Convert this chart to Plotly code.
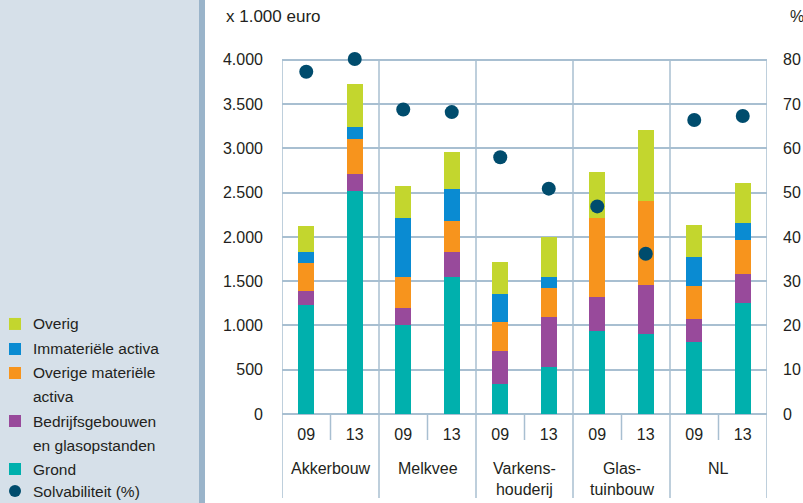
import plotly.graph_objects as go

# ---- data ----
groups = ["Akkerbouw", "Melkvee", "Varkens-<br>houderij", "Glas-<br>tuinbouw", "NL"]
x_pos = [0.5, 1.5, 2.5, 3.5, 4.5, 5.5, 6.5, 7.5, 8.5, 9.5]
x_ticktext = ["09", "13"] * 5

grond = [1227, 2515, 1009, 1551, 342, 534, 941, 907, 817, 1258]
bedrijfsgebouwen = [166, 192, 192, 283, 373, 565, 384, 554, 260, 327]
overige_materiele = [317, 404, 350, 350, 328, 328, 893, 949, 373, 384]
immateriele = [124, 135, 667, 362, 316, 124, 0, 0, 327, 193]
overig = [294, 486, 362, 418, 362, 449, 520, 802, 362, 452]
solvabiliteit = [77.3, 80.2, 68.8, 68.2, 58.0, 50.9, 46.9, 36.2, 66.4, 67.3]

y_ticks = [0, 500, 1000, 1500, 2000, 2500, 3000, 3500, 4000]
y_ticktext = ["0", "500", "1.000", "1.500", "2.000", "2.500", "3.000", "3.500", "4.000"]
y2_ticks = [0, 10, 20, 30, 40, 50, 60, 70, 80]

legend_labels = ["Overig", "Immateriële activa", "Overige materiële<br>activa",
                 "Bedrijfsgebouwen<br>en glasopstanden", "Grond", "Solvabiliteit (%)"]

# ---- styling ----
FONT = "Liberation Sans, Arial, sans-serif"
TXT = "#231f20"
GRID = "#a8bfd1"
C_GROND, C_BEDR, C_OVMAT, C_IMM, C_OVERIG, C_SOLV = (
    "#00b0ad", "#984a9b", "#f7941d", "#0a8bd2", "#c3d62e", "#004c6d")
W, H = 803, 503
Y_MAX, Y2_MAX = 4100, 82          # a little headroom so the top dot is drawn
L, R, B = 282, 36, 89
PH = 354 * Y_MAX / 4000           # 4000 lands at 60 px from the top
T = H - B - PH
PW = W - L - R


def px_x(px):
    return (px - L) / PW


def px_y(py):
    return (H - B - py) / PH


fig = go.Figure()

series = [
    (legend_labels[4], grond, C_GROND),
    (legend_labels[3], bedrijfsgebouwen, C_BEDR),
    (legend_labels[2], overige_materiele, C_OVMAT),
    (legend_labels[1], immateriele, C_IMM),
    (legend_labels[0], overig, C_OVERIG),
]
for name, vals, col in series:
    fig.add_trace(go.Bar(
        x=x_pos, y=vals, name=name.replace("<br>", " "),
        marker=dict(color=col, line=dict(width=0)), width=0.33,
    ))

fig.add_trace(go.Scatter(
    x=x_pos, y=solvabiliteit, yaxis="y2", mode="markers", name=legend_labels[5],
    marker=dict(color=C_SOLV, size=14, line=dict(width=0)), cliponaxis=False,
))

shapes = []
# left panel
shapes.append(dict(type="rect", xref="paper", yref="paper", x0=px_x(-2), x1=px_x(199),
                   y0=px_y(H + 2), y1=px_y(-2), fillcolor="#d6e0e9", line=dict(width=0), layer="below"))
shapes.append(dict(type="rect", xref="paper", yref="paper", x0=px_x(199), x1=px_x(205),
                   y0=px_y(H + 2), y1=px_y(-2), fillcolor="#9ab4ca", line=dict(width=0), layer="below"))
# group dividers
for gx in [0, 2, 4, 6, 8, 10]:
    shapes.append(dict(type="line", xref="x", yref="paper", x0=gx, x1=gx, y0=px_y(498), y1=px_y(60),
                       line=dict(color=GRID, width=1.5), layer="below"))
for sx in [1, 3, 5, 7, 9]:
    shapes.append(dict(type="line", xref="x", yref="paper", x0=sx, x1=sx, y0=px_y(440), y1=0,
                       line=dict(color=GRID, width=1.5), layer="below"))

annotations = [
    dict(text="x 1.000 euro", xref="paper", yref="paper", x=px_x(224), y=px_y(17),
         xanchor="left", yanchor="middle", showarrow=False, font=dict(size=17, color=TXT, family=FONT)),
    dict(text="%", xref="paper", yref="paper", x=px_x(788), y=px_y(17),
         xanchor="left", yanchor="middle", showarrow=False, font=dict(size=16, color=TXT, family=FONT)),
]
for i, g in enumerate(groups):
    annotations.append(dict(text=g, xref="x", yref="paper", x=2 * i + 1, y=px_y(458),
                            xanchor="center", yanchor="top", showarrow=False, align="center",
                            font=dict(size=16, color=TXT, family=FONT)))

# ---- legend (drawn in the left panel) ----
leg_colors = [C_OVERIG, C_IMM, C_OVMAT, C_BEDR, C_GROND, C_SOLV]
leg_rows = [324, 349, 373, 421, 469, 491]
for lab, col, yc in zip(legend_labels, leg_colors, leg_rows):
    if col == C_SOLV:
        shapes.append(dict(type="circle", xref="paper", yref="paper", x0=px_x(9), x1=px_x(21),
                           y0=px_y(yc + 6), y1=px_y(yc - 6), fillcolor=col, line=dict(width=0)))
    else:
        shapes.append(dict(type="rect", xref="paper", yref="paper", x0=px_x(9), x1=px_x(21),
                           y0=px_y(yc + 6), y1=px_y(yc - 6), fillcolor=col, line=dict(width=0)))
    for j, line in enumerate(lab.split("<br>")):
        annotations.append(dict(text=line, xref="paper", yref="paper", x=px_x(31),
                                y=px_y(yc + 24 * j), xanchor="left", yanchor="middle",
                                showarrow=False, font=dict(size=15.5, color=TXT, family=FONT)))

fig.update_layout(
    width=W, height=H, margin=dict(l=L, r=R, t=T, b=B, autoexpand=False),
    paper_bgcolor="white", plot_bgcolor="white",
    barmode="stack", bargap=0, showlegend=False,
    font=dict(family=FONT, size=16, color=TXT),
    xaxis=dict(range=[0, 10], tickvals=x_pos, ticktext=x_ticktext, showgrid=False,
               zeroline=False, showline=False, ticks="", ticklabelstandoff=9,
               tickfont=dict(size=16, color=TXT), fixedrange=True),
    yaxis=dict(range=[0, Y_MAX], tickvals=y_ticks, ticktext=y_ticktext, showgrid=True,
               gridcolor=GRID, gridwidth=1.5, zeroline=True, zerolinecolor=GRID, zerolinewidth=1.5,
               showline=False, ticks="", ticklabelstandoff=18, tickfont=dict(size=16, color=TXT)),
    yaxis2=dict(range=[0, Y2_MAX], tickvals=y2_ticks, overlaying="y", side="right", showgrid=False,
                zeroline=False, showline=False, ticks="", ticklabelstandoff=15,
                tickfont=dict(size=16, color=TXT)),
    shapes=shapes, annotations=annotations,
)

fig.write_html("out.html", config={"displayModeBar": False},
               post_script="document.body.style.margin='0';document.body.style.overflow='hidden';")
